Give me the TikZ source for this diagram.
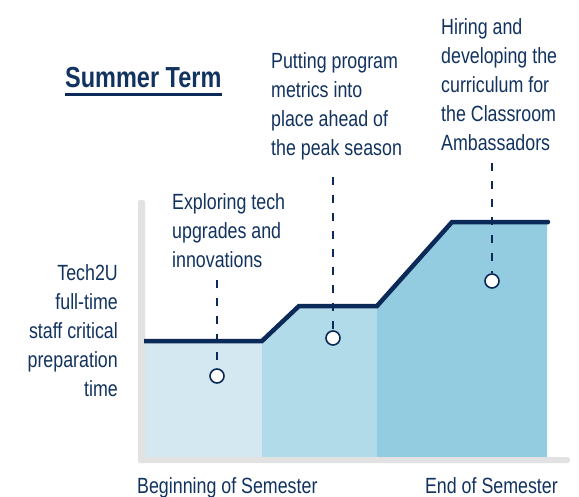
\documentclass[tikz,border=0pt]{standalone}
\usepackage{fontspec}
\setmainfont{Liberation Sans}[FakeStretch=0.81]
\definecolor{navy}{HTML}{0B2A58}
\definecolor{ink}{HTML}{12335F}
\definecolor{fillA}{HTML}{D3E8F1}
\definecolor{fillB}{HTML}{B2DBEA}
\definecolor{fillC}{HTML}{93CBE1}
\definecolor{axisgray}{HTML}{E2E2E2}
\begin{document}
\begin{tikzpicture}[x=1pt,y=-1pt,
  note/.style={text=ink, font=\fontsize{22}{29}\selectfont, inner sep=0pt},
  leader/.style={draw=navy, line width=2.4pt, dash pattern=on 8pt off 10pt},
  marker/.style={circle, draw=navy, fill=white, line width=1.6pt, minimum size=14pt, inner sep=0pt},
  profile/.style={draw=navy, line width=4.5pt, line join=miter}]
\useasboundingbox (0,0) rectangle (579,496);
\fill[white] (0,0) rectangle (579,496);

% title
\node[anchor=base west, inner sep=0pt, text=ink,
      font=\fontsize{29}{29}\selectfont\bfseries] (title) at (65,87) {Summer Term};
\draw[navy, line width=3pt] ([yshift=-7pt]title.south west) -- ([yshift=-7pt]title.south east);

% shaded phases under the curve
\fill[fillA] (145,341) rectangle (262,457);
\fill[fillB] (262,457) -- (262,341) -- (299,306) -- (377,306) -- (377,457) -- cycle;
\fill[fillC] (377,457) -- (377,306) -- (452,222) -- (547,222) -- (547,457) -- cycle;

% axes
\fill[axisgray, rounded corners=2pt] (138,200) rectangle (145,463);
\fill[axisgray, rounded corners=2.5pt] (138,457) rectangle (570,463);

% staffing time profile
\draw[profile] (144,341) -- (262,341) -- (299,306) -- (377,306) -- (452,222) -- (548,222);
\fill[navy] (548,222) circle (2.25pt);

% phase markers and leaders
\node[marker] (m1) at (217,376) {};
\node[marker] (m2) at (333,338) {};
\node[marker] (m3) at (492,281) {};
\coordinate (l1) at (217,280);
\coordinate (l2) at (333,177);
\coordinate (l3) at (492,163);
\draw[leader] (l1) -- (m1.north);
\draw[leader] (l2) -- (m2.north);
\draw[leader] (l3) -- (m3.north);

% phase notes
\node[note, anchor=north west, align=left] (n1) at (172,193)
  {Exploring tech\\upgrades and\\innovations};
\node[note, anchor=north west, align=left] (n2) at (271,52)
  {Putting program\\metrics into\\place ahead of\\the peak season};
\node[note, anchor=north west, align=left] (n3) at (441,18)
  {Hiring and\\developing the\\curriculum for\\the Classroom\\Ambassadors};

% axis labels
\node[note, anchor=north east, align=right] (ylab) at (118,264)
  {Tech2U\\full-time\\staff critical\\preparation\\time};
\node[note, anchor=base west] (xstart) at (137,493) {Beginning of Semester};
\node[note, anchor=base east] (xend) at (558,493) {End of Semester};
\end{tikzpicture}
\end{document}
